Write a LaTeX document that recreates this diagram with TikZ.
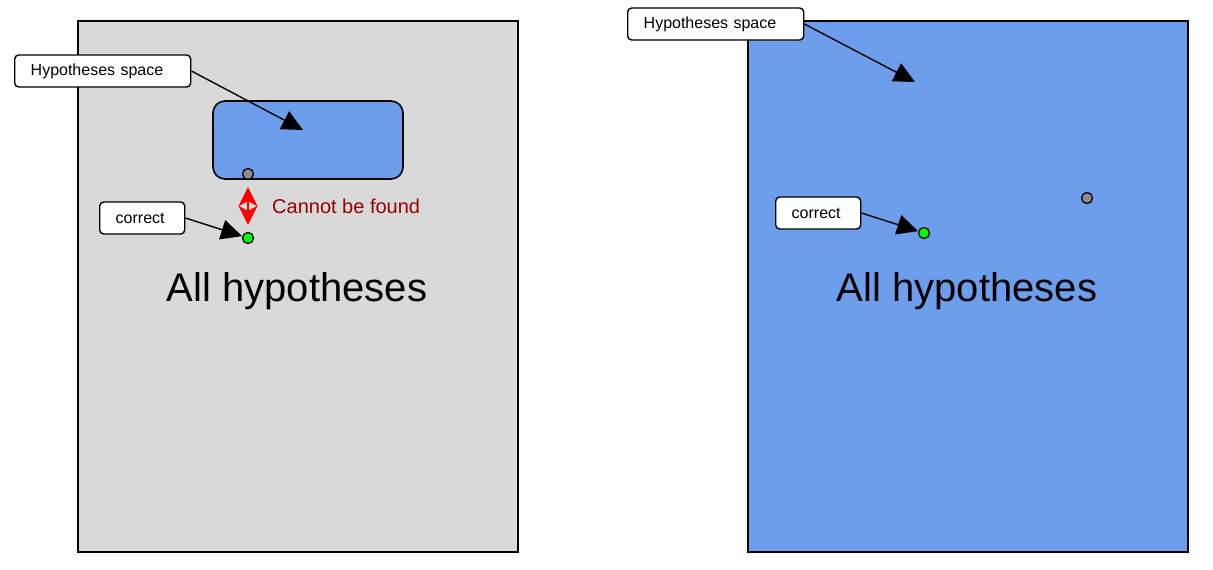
\documentclass[tikz,border=0pt]{standalone}
\usepackage{fontspec}
\setmainfont{Liberation Sans}
\usetikzlibrary{arrows.meta}
\definecolor{bluefill}{HTML}{6D9EEB}
\definecolor{grayfill}{HTML}{D9D9D9}
\definecolor{dotgray}{HTML}{8C8C8C}
\definecolor{darkred}{HTML}{990000}
\begin{document}
\begin{tikzpicture}[x=1pt,y=-1pt,
  panel/.style={draw=black,line width=1.6pt},
  callout/.style={draw=black,line width=1.4pt,fill=white,rounded corners=4pt,anchor=west,
    minimum height=32pt,inner xsep=16pt,inner ysep=0pt,align=left,
    font=\fontsize{16}{19}\selectfont},
  pointer/.style={draw=black,line width=1.4pt,-{Triangle[length=21pt,width=20pt]}},
  dot/.style={circle,draw=black,line width=1.3pt,minimum size=11pt,inner sep=0pt},
  bigtext/.style={font=\fontsize{40}{48}\selectfont}]
\useasboundingbox (0,0) rectangle (1213,570);
% left panel
\node[panel,fill=grayfill,minimum width=440pt,minimum height=531pt,inner sep=0pt] (L) at (298,286.5) {};
\node[panel,fill=bluefill,rounded corners=12pt,minimum width=190pt,minimum height=78pt,inner sep=0pt] (space1) at (308,140) {};
\node[dot,fill=dotgray] (gd1) at (248,174) {};
\node[dot,fill=green] (gr1) at (248,238) {};
\draw[red,line width=2pt,{Stealth[length=19pt,width=19pt,inset=5pt]}-{Stealth[length=19pt,width=19pt,inset=5pt]},shorten <=7pt,shorten >=7pt] (gd1) -- (gr1);
\node[anchor=west,text=darkred,font=\fontsize{20}{24}\selectfont,inner sep=0pt] (cbf) at (272,206) {Cannot be found};
\node[callout,text width=144pt] (hs1) at (14,71) {Hypotheses space};
\coordinate (t1) at (303,130);
\draw[pointer] (hs1.east) -- (t1);
\node[callout,text width=53pt] (c1) at (99,218) {correct};
\draw[pointer] (c1.east) -- (gr1);
\node[bigtext] (all1) at (297,291) {All hypotheses};
% right panel
\node[panel,fill=bluefill,minimum width=440pt,minimum height=531pt,inner sep=0pt] (R) at (968,286.5) {};
\node[dot,fill=dotgray] (gd2) at (1087,198) {};
\node[dot,fill=green] (gr2) at (924,233) {};
\node[callout,text width=144pt] (hs2) at (627,24) {Hypotheses space};
\coordinate (t2) at (915,82);
\draw[pointer] (hs2.east) -- (t2);
\node[callout,text width=53pt] (c2) at (775,213) {correct};
\draw[pointer] (c2.east) -- (gr2);
\node[bigtext] (all2) at (967,291) {All hypotheses};
\end{tikzpicture}
\end{document}
